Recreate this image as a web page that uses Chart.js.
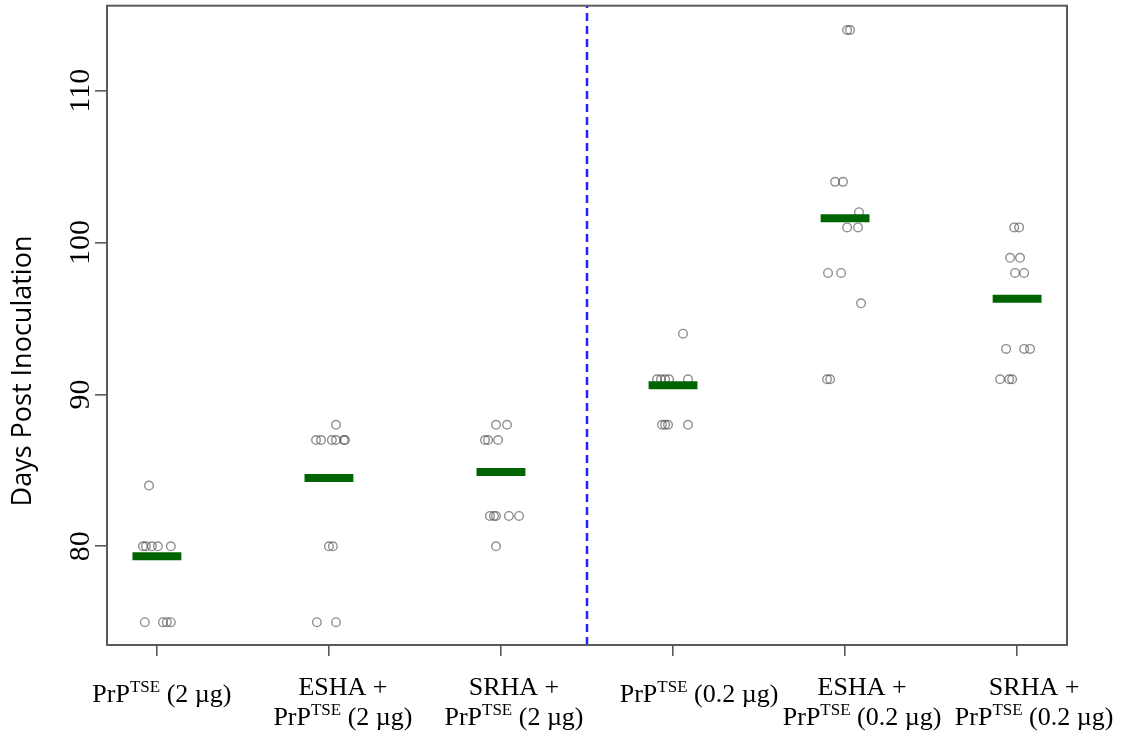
<!DOCTYPE html>
<html>
<head>
<meta charset="utf-8">
<script src="https://cdn.jsdelivr.net/npm/chart.js@4"></script>
<style>
  html, body { margin: 0; padding: 0; background: #fff; }
  canvas { display: block; }
</style>
</head>
<body>
<canvas id="stripChart" width="1122" height="738"></canvas>
<script>
// ─── data ─────────────────────────────────────────────────────
const groupPos = [1, 2, 3, 4, 5, 6];
const groupLabels = [
  ['PrP^TSE (2 µg)'],
  ['ESHA +', 'PrP^TSE (2 µg)'],
  ['SRHA +', 'PrP^TSE (2 µg)'],
  ['PrP^TSE (0.2 µg)'],
  ['ESHA +', 'PrP^TSE (0.2 µg)'],
  ['SRHA +', 'PrP^TSE (0.2 µg)']
];
const groupMeans = [79.35, 84.5, 84.9, 90.6, 101.6, 96.3];

// days per animal, with the horizontal jitter used in the strip chart
const prp2Days     = [84, 80, 80, 80, 80, 80, 75, 75, 75, 75];
const prp2Jitter   = [-0.046, -0.081, -0.064, -0.029, 0.006, 0.081, -0.07, 0.035, 0.058, 0.081];
const esha2Days    = [88, 87, 87, 87, 87, 87, 87, 80, 80, 75, 75];
const esha2Jitter  = [0.041, -0.075, -0.046, 0.017, 0.041, 0.087, 0.093, 0, 0.023, -0.07, 0.041];
const srha2Days    = [88, 88, 87, 87, 87, 82, 82, 82, 82, 82, 80];
const srha2Jitter  = [-0.029, 0.035, -0.093, -0.075, -0.017, -0.064, -0.041, -0.029, 0.046, 0.105, -0.029];
const prp02Days    = [94, 91, 91, 91, 91, 91, 88, 88, 88, 88];
const prp02Jitter  = [0.058, -0.093, -0.07, -0.046, -0.023, 0.087, -0.064, -0.046, -0.029, 0.087];
const esha02Days   = [114, 114, 104, 104, 102, 101, 101, 98, 98, 96, 91, 91];
const esha02Jitter = [0.012, 0.029, -0.058, -0.012, 0.081, 0.012, 0.075, -0.099, -0.023, 0.093, -0.105, -0.087];
const srha02Days   = [101, 101, 99, 99, 98, 98, 93, 93, 93, 91, 91, 91];
const srha02Jitter = [-0.017, 0.012, -0.041, 0.017, -0.012, 0.041, -0.064, 0.041, 0.075, -0.099, -0.046, -0.029];

const yTicks = [80, 90, 100, 110];
const separatorX = 3.5;

// ─── styling ──────────────────────────────────────────────────
const Y_MIN = 73.5, Y_MAX = 115.6;
const BAR_HALF = 0.142;
const labelShift = [5, 14, 13, 26, 17, 17];   // px, label centre vs tick
const FRAME = '#5a5a5a';

const groupDays   = [prp2Days, esha2Days, srha2Days, prp02Days, esha02Days, srha02Days];
const groupJitter = [prp2Jitter, esha2Jitter, srha2Jitter, prp02Jitter, esha02Jitter, srha02Jitter];

const points = [];
groupDays.forEach((days, g) => {
  days.forEach((d, i) => points.push({ x: groupPos[g] + groupJitter[g][i], y: d }));
});

const meanSets = groupMeans.map((m, g) => ({
  type: 'line',
  data: [{ x: groupPos[g] - BAR_HALF, y: m }, { x: groupPos[g] + BAR_HALF, y: m }],
  borderColor: '#006400',
  borderWidth: 8,
  borderCapStyle: 'butt',
  pointRadius: 0,
  order: 0
}));

// draws the rich text, the frame and the rotated tick labels
function drawRich(ctx, str, cx, base, size, supSize) {
  const parts = str.split(/\^(\w+)/);
  const fonts = parts.map((p, i) => `${i % 2 ? supSize : size}px "Liberation Serif", "Times New Roman", serif`);
  let total = 0;
  const widths = parts.map((p, i) => { ctx.font = fonts[i]; const w = ctx.measureText(p).width; total += w; return w; });
  let x = cx - total / 2;
  parts.forEach((p, i) => {
    ctx.font = fonts[i];
    ctx.fillText(p, x, i % 2 ? base - 10 : base);
    x += widths[i];
  });
}

const textPlugin = {
  id: 'textPlugin',
  afterDraw(chart) {
    const { ctx, chartArea: a, scales: { x, y } } = chart;
    ctx.save();
    // frame
    ctx.strokeStyle = FRAME;
    ctx.lineWidth = 2;
    ctx.strokeRect(a.left, a.top, a.right - a.left, a.bottom - a.top);

    ctx.fillStyle = '#000';
    // y tick labels, rotated
    ctx.textAlign = 'center';
    ctx.textBaseline = 'alphabetic';
    ctx.font = '30px "Liberation Serif", "Times New Roman", serif';
    yTicks.forEach(v => {
      ctx.save();
      ctx.translate(89, y.getPixelForValue(v));
      ctx.rotate(-Math.PI / 2);
      ctx.fillText(String(v), 0, 0);
      ctx.restore();
    });
    // y title
    ctx.save();
    ctx.translate(31, 371);
    ctx.rotate(-Math.PI / 2);
    ctx.font = '27px "Open Sans", sans-serif';
    ctx.fillText('Days Post Inoculation', 0, 0);
    ctx.restore();

    // x labels
    ctx.textAlign = 'left';
    groupLabels.forEach((lines, g) => {
      const cx = x.getPixelForValue(groupPos[g]) + labelShift[g];
      if (lines.length === 1) {
        drawRich(ctx, lines[0], cx, 702, 26, 17);
      } else {
        lines.forEach((ln, k) => drawRich(ctx, ln, cx, 695 + k * 30, 26, 17));
      }
    });
    ctx.restore();
  }
};

new Chart(document.getElementById('stripChart'), {
  type: 'scatter',
  data: {
    datasets: [
      {
        data: points,
        pointStyle: 'circle',
        pointRadius: 4.3,
        pointBorderWidth: 1.4,
        pointBorderColor: 'rgba(75,75,75,0.62)',
        pointBackgroundColor: 'rgba(0,0,0,0)',
        order: 1
      },
      ...meanSets,
      {
        type: 'line',
        data: [{ x: separatorX, y: Y_MIN }, { x: separatorX, y: Y_MAX }],
        borderColor: '#1f1fff',
        borderWidth: 2.5,
        borderDash: [8, 5],
        pointRadius: 0,
        order: 2
      }
    ]
  },
  options: {
    responsive: false,
    animation: false,
    layout: { padding: { top: 5, right: 55, left: 0, bottom: 0 } },
    plugins: { legend: { display: false }, tooltip: { enabled: false } },
    scales: {
      x: {
        type: 'linear',
        min: 0.71, max: 6.29,
        afterBuildTicks: s => { s.ticks = groupPos.map(v => ({ value: v })); },
        afterFit: s => { s.height = 93; },
        ticks: { display: false },
        grid: { drawOnChartArea: false, tickLength: 11, color: FRAME, lineWidth: 1.6 },
        border: { color: FRAME, width: 2 }
      },
      y: {
        min: Y_MIN, max: Y_MAX,
        afterBuildTicks: s => { s.ticks = yTicks.map(v => ({ value: v })); },
        afterFit: s => { s.width = 107; },
        ticks: { display: false },
        grid: { drawOnChartArea: false, tickLength: 12, color: FRAME, lineWidth: 1.6 },
        border: { color: FRAME, width: 2 }
      }
    }
  },
  plugins: [textPlugin]
});
</script>
</body>
</html>
